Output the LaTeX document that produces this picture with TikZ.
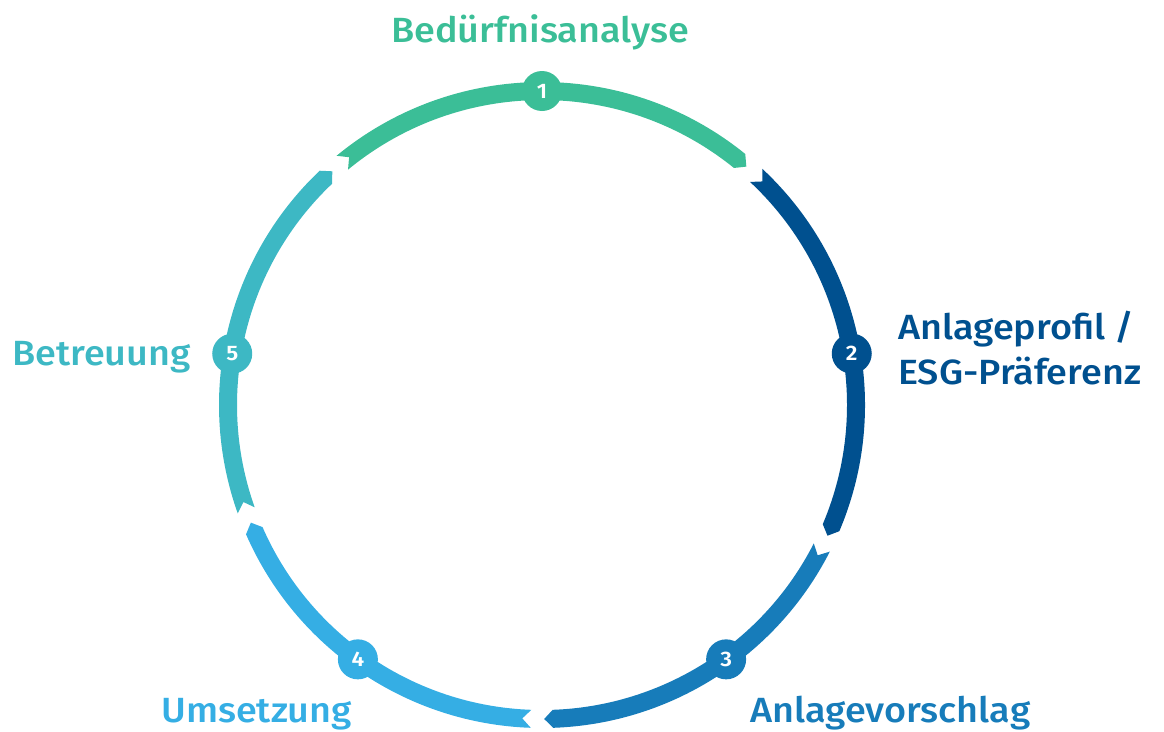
\documentclass[tikz,border=0pt]{standalone}
\usepackage{fontspec}
\setmainfont{Fira Sans}[UprightFont={* Medium}, BoldFont={* SemiBold}, FakeStretch=1.08]
\definecolor{cA}{HTML}{3BBE97}
\definecolor{cB}{HTML}{00508F}
\definecolor{cC}{HTML}{177CBA}
\definecolor{cD}{HTML}{35AEE4}
\definecolor{cE}{HTML}{3DB8C4}
\newcommand\ringseg[3]{%
  \pgfmathsetmacro\sa{#2-2}%
  \pgfmathsetmacro\sb{#3+2}%
  \pgfmathsetmacro\sbt{\sb-1.6}%
  \pgfmathsetmacro\san{\sa-1.6}%
  \fill[#1] (\sa:323pt) arc[start angle=\sa, end angle=\sb, radius=323pt]
    -- (\sbt:314pt) -- (\sb:305pt)
    arc[start angle=\sb, end angle=\sa, radius=305pt]
    -- (\san:314pt) -- cycle;}
\tikzset{
  numdot/.style={circle, fill=#1, minimum size=40pt, inner sep=0pt, text=white,
    font=\bfseries\fontsize{21}{21}\selectfont},
  steplabel/.style={text=#1, inner sep=0pt, font=\fontsize{35}{45}\selectfont}
}
\begin{document}
\begin{tikzpicture}[x=1pt,y=1pt]
\useasboundingbox (0,0) rectangle (1164,-731);
\begin{scope}[shift={(542,-405)}]
  \ringseg{cA}{131.5}{49}
  \ringseg{cB}{49}{-25}
  \ringseg{cC}{-25}{-90}
  \ringseg{cD}{-90}{-158.4}
  \ringseg{cE}{-158.4}{-228.5}
  \node[numdot=cA] (n1) at (90:314pt) {1};
  \node[numdot=cB] (n2) at (9.43:314pt) {2};
  \node[numdot=cC] (n3) at (-54.1:314pt) {3};
  \node[numdot=cD] (n4) at (-125.9:314pt) {4};
  \node[numdot=cE] (n5) at (170.6:314pt) {5};
\end{scope}
\node[steplabel=cA, anchor=base] (l1) at (540,-42) {Bedürfnisanalyse};
\node[steplabel=cB, anchor=north west, align=left] (l2) at (898,-311) {Anlageprofil /\\ESG-Präferenz};
\node[steplabel=cC, anchor=base west] (l3) at (750,-722) {Anlagevorschlag};
\node[steplabel=cD, anchor=base east] (l4) at (352,-722) {Umsetzung};
\node[steplabel=cE, anchor=base west] (l5) at (12,-365) {Betreuung};
\end{tikzpicture}
\end{document}
